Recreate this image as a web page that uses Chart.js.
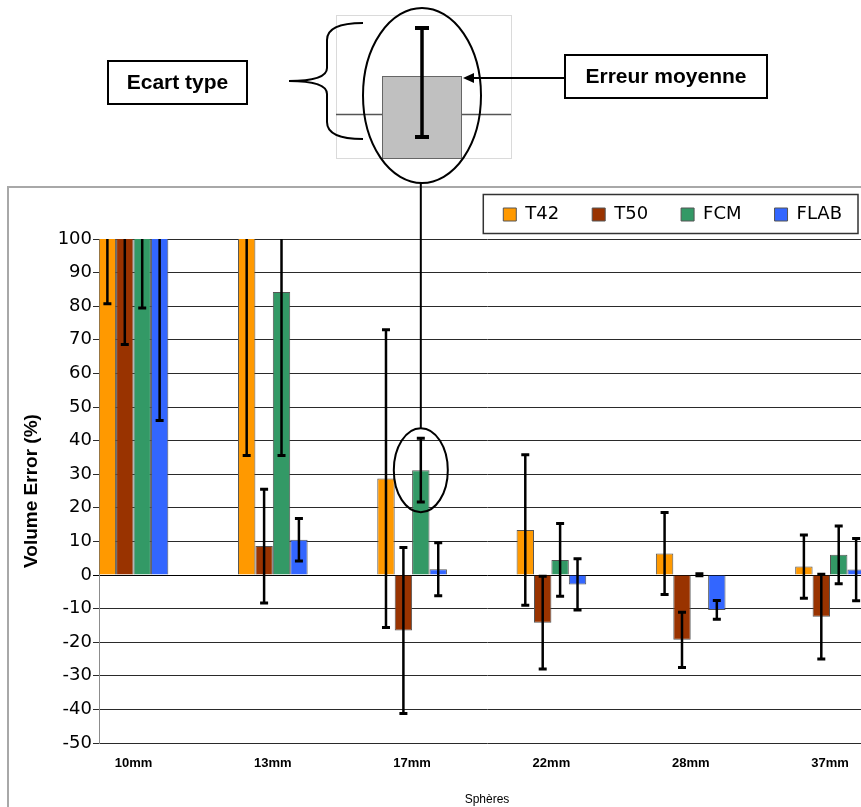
<!DOCTYPE html>
<html>
<head>
<meta charset="utf-8">
<title>Volume Error</title>
<script src="https://cdn.jsdelivr.net/npm/chart.js@4.4.0/dist/chart.umd.min.js"></script>
<style>
  html, body { margin: 0; padding: 0; background: #fff; overflow: hidden; }
  #wrap { width: 861px; height: 807px; overflow: hidden; }
  canvas { display: block; }
</style>
</head>
<body>
<div id="wrap"><canvas id="volumeChart" width="900" height="807"></canvas></div>
<script>
const categories = ['10mm', '13mm', '17mm', '22mm', '28mm', '37mm'];

// mean volume error (%) and standard deviation per sphere size
const t42 = [125, 110, 28.7, 13.4, 6.4, 2.5];
const t42Sd = [44.3, 74.4, 44.3, 22.4, 12.2, 9.4];
const t50 = [115, 8.6, -16.5, -14.2, -19.3, -12.4];
const t50Sd = [46.4, 16.9, 24.7, 13.8, 8.2, 12.6];
const fcm = [120, 84.2, 31.2, 4.5, 0.1, 6.0];
const fcmSd = [40.5, 48.6, 9.5, 10.8, 0.3, 8.6];
const flab = [130, 10.5, 1.7, -2.8, -10.4, 1.6];
const flabSd = [84, 6.3, 7.9, 7.6, 2.8, 9.3];

function toPoints(values) {
    return values.map((v, i) => ({ x: i, y: v }));
}

// black error bars: mean +/- sd, clipped to the plot
const errorBars = {
    id: 'errorBars',
    afterDatasetsDraw(chart) {
        const ctx = chart.ctx;
        const area = chart.chartArea;
        const y = chart.scales.y;
        ctx.save();
        ctx.beginPath();
        ctx.rect(area.left, area.top, area.right - area.left, area.bottom - area.top);
        ctx.clip();
        ctx.strokeStyle = '#000';
        chart.data.datasets.forEach((ds, i) => {
            chart.getDatasetMeta(i).data.forEach((bar, j) => {
                const mean = ds.data[j].y;
                const top = y.getPixelForValue(mean + ds.errors[j]);
                const bottom = y.getPixelForValue(mean - ds.errors[j]);
                ctx.lineWidth = 2.5;
                ctx.beginPath();
                ctx.moveTo(bar.x, top);
                ctx.lineTo(bar.x, bottom);
                ctx.stroke();
                ctx.lineWidth = 3;
                ctx.beginPath();
                ctx.moveTo(bar.x - 4, top);
                ctx.lineTo(bar.x + 4, top);
                ctx.moveTo(bar.x - 4, bottom);
                ctx.lineTo(bar.x + 4, bottom);
                ctx.stroke();
            });
        });
        ctx.restore();
    }
};

// outer frame of the chart
const frame = {
    id: 'frame',
    beforeDraw(chart) {
        const ctx = chart.ctx;
        ctx.save();
        ctx.strokeStyle = '#a8a8a8';
        ctx.lineWidth = 2;
        ctx.beginPath();
        ctx.moveTo(8, chart.height);
        ctx.lineTo(8, 187);
        ctx.lineTo(chart.width, 187);
        ctx.stroke();
        ctx.restore();
    }
};

function labelBox(ctx, x, y, w, h, text) {
    ctx.fillStyle = '#fff';
    ctx.fillRect(x, y, w, h);
    ctx.strokeStyle = '#000';
    ctx.lineWidth = 2;
    ctx.strokeRect(x, y, w, h);
    ctx.fillStyle = '#000';
    ctx.font = 'bold 21px "Liberation Sans", Arial, sans-serif';
    ctx.textAlign = 'center';
    ctx.textBaseline = 'middle';
    ctx.fillText(text, x + w / 2, y + h / 2 + 1);
}

// legend border + explanatory sketch at the top
const annotation = {
    id: 'annotation',
    afterDraw(chart) {
        const ctx = chart.ctx;
        ctx.save();

        const boxes = chart.legend.legendHitBoxes;
        const first = boxes[0], last = boxes[boxes.length - 1];
        const mid = first.top + first.height / 2;
        ctx.strokeStyle = '#333';
        ctx.lineWidth = 1.5;
        ctx.strokeRect(first.left - 20, mid - 20, last.left + last.width + 16 - (first.left - 20), 39);

        // small sketch of a bar with its error bar
        ctx.strokeStyle = '#dadada';
        ctx.lineWidth = 1;
        ctx.strokeRect(336.5, 15.5, 175, 143);
        ctx.strokeStyle = '#555';
        ctx.lineWidth = 1.5;
        ctx.beginPath();
        ctx.moveTo(336, 114.5);
        ctx.lineTo(511, 114.5);
        ctx.stroke();
        ctx.fillStyle = '#c0c0c0';
        ctx.fillRect(382, 76, 80, 83);
        ctx.strokeStyle = '#666';
        ctx.lineWidth = 1;
        ctx.strokeRect(382.5, 76.5, 79, 82);
        ctx.strokeStyle = '#000';
        ctx.lineWidth = 3.5;
        ctx.beginPath();
        ctx.moveTo(422, 28);
        ctx.lineTo(422, 137);
        ctx.stroke();
        ctx.lineWidth = 4;
        ctx.beginPath();
        ctx.moveTo(415, 28);
        ctx.lineTo(429, 28);
        ctx.moveTo(415, 137);
        ctx.lineTo(429, 137);
        ctx.stroke();

        ctx.lineWidth = 2;
        ctx.beginPath();
        ctx.ellipse(422, 95.5, 59, 87.5, 0, 0, Math.PI * 2);
        ctx.stroke();

        // brace
        ctx.beginPath();
        ctx.moveTo(363, 23);
        ctx.quadraticCurveTo(327, 23, 327, 40);
        ctx.lineTo(327, 68);
        ctx.quadraticCurveTo(327, 81, 289, 81);
        ctx.quadraticCurveTo(327, 81, 327, 94);
        ctx.lineTo(327, 122);
        ctx.quadraticCurveTo(327, 139, 363, 139);
        ctx.stroke();

        // arrow to the bar top
        ctx.beginPath();
        ctx.moveTo(565, 78);
        ctx.lineTo(470, 78);
        ctx.stroke();
        ctx.fillStyle = '#000';
        ctx.beginPath();
        ctx.moveTo(463, 78);
        ctx.lineTo(474, 73);
        ctx.lineTo(474, 83);
        ctx.closePath();
        ctx.fill();

        labelBox(ctx, 108, 61, 139, 43, 'Ecart type');
        labelBox(ctx, 565, 55, 202, 43, 'Erreur moyenne');

        // link to the FCM 17mm bar
        const target = chart.getDatasetMeta(2).data[2];
        const cy = chart.scales.y.getPixelForValue(fcm[2]);
        ctx.strokeStyle = '#000';
        ctx.lineWidth = 2;
        ctx.beginPath();
        ctx.moveTo(target.x, 183);
        ctx.lineTo(target.x, cy - 42);
        ctx.stroke();
        ctx.beginPath();
        ctx.ellipse(target.x, cy, 27, 42, 0, 0, Math.PI * 2);
        ctx.stroke();

        ctx.restore();
    }
};

const barStyle = { borderColor: '#555', borderWidth: 1 };

const ctx = document.getElementById('volumeChart').getContext('2d');
new Chart(ctx, {
    type: 'bar',
    data: {
        datasets: [
            { label: 'T42', data: toPoints(t42), errors: t42Sd, backgroundColor: '#FF9900', ...barStyle },
            { label: 'T50', data: toPoints(t50), errors: t50Sd, backgroundColor: '#993300', ...barStyle },
            { label: 'FCM', data: toPoints(fcm), errors: fcmSd, backgroundColor: '#339966', ...barStyle },
            { label: 'FLAB', data: toPoints(flab), errors: flabSd, backgroundColor: '#3366FF', ...barStyle }
        ]
    },
    options: {
        responsive: false,
        animation: false,
        devicePixelRatio: 1,
        categoryPercentage: 0.5,
        barPercentage: 1,
        layout: { padding: { top: 172.5, right: 25, left: 0, bottom: 0 } },
        scales: {
            x: {
                type: 'linear',
                offset: false,
                min: -0.2477,
                max: 5.323,
                grid: { display: false },
                border: { display: false },
                afterBuildTicks(scale) {
                    scale.ticks = categories.map((c, i) => ({ value: i }));
                },
                ticks: {
                    autoSkip: false,
                    maxRotation: 0,
                    padding: 5,
                    color: '#000',
                    font: { family: '"Liberation Sans", Arial, sans-serif', size: 13, weight: 'bold' },
                    callback: v => categories[v] || ''
                },
                title: {
                    display: true,
                    text: 'Sphères',
                    color: '#000',
                    font: { family: '"Liberation Sans Narrow", "Liberation Sans", Arial, sans-serif', size: 12 },
                    padding: { top: 0, bottom: 0 }
                },
                afterFit(scale) { scale.height = 64; }
            },
            spacer: {
                type: 'linear',
                position: 'top',
                display: true,
                grid: { display: false },
                border: { display: false },
                ticks: { display: false },
                afterFit(scale) { scale.height = 5.5; }
            },
            y: {
                min: -50,
                max: 100,
                ticks: {
                    stepSize: 10,
                    padding: 1,
                    color: '#000',
                    font: { family: '"DejaVu Sans", sans-serif', size: 18 }
                },
                grid: {
                    color: c => (c.tick && c.tick.value === 0) ? '#000' : '#2a2a2a',
                    tickLength: 6,
                    lineWidth: 1
                },
                border: { color: '#8c8c8c', width: 1 },
                title: {
                    display: true,
                    text: 'Volume Error (%)',
                    color: '#000',
                    font: { family: '"Liberation Sans", Arial, sans-serif', size: 19, weight: 'bold' },
                    padding: { top: 20, bottom: 0 }
                },
                afterFit(scale) { scale.width = 99; }
            }
        },
        plugins: {
            tooltip: { enabled: false },
            legend: {
                position: 'top',
                align: 'end',
                labels: {
                    boxWidth: 13,
                    boxHeight: 13,
                    padding: 33,
                    color: '#000',
                    font: { family: '"DejaVu Sans", sans-serif', size: 18 }
                }
            }
        }
    },
    plugins: [frame, errorBars, annotation]
});
</script>
</body>
</html>
